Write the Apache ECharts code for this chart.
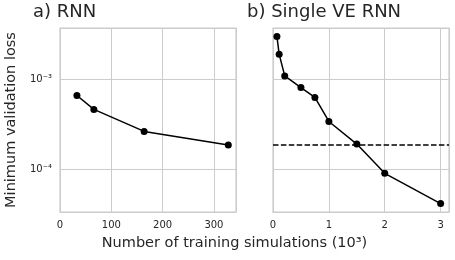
<!DOCTYPE html>
<html><head><meta charset="utf-8">
<script src="https://cdn.jsdelivr.net/npm/echarts@6/dist/echarts.min.js"></script>
<style>html,body{margin:0;padding:0;background:#fff}#c{width:455px;height:260px}</style>
</head><body><div id="c"></div>
<script>
// Panel a) RNN
const rnnSims = [33, 66, 164, 328];
const rnnLoss = [6.6e-4, 4.63e-4, 2.64e-4, 1.86e-4];
// Panel b) Single VE RNN (x in 10^3)
const veSims = [0.07, 0.11, 0.21, 0.5, 0.75, 1.0, 1.5, 2.0, 3.0];
const veLoss = [2.99e-3, 1.90e-3, 1.09e-3, 8.1e-4, 6.28e-4, 3.40e-4, 1.91e-4, 9.04e-5, 4.17e-5];
const rnnBest = 1.86e-4;
const titles = ['a) RNN', 'b) Single VE RNN'];
const xLabel = 'Number of training simulations (10³)';
const yLabel = 'Minimum validation loss';
const yMin = 3.365e-5, yMax = 3.707e-3;
const xMaxA = 343, xMaxB = 3.15;

const txt = '#262626', grey = '#cccccc';
const font = 'DejaVu Sans';
const chart = echarts.init(document.getElementById('c'), null, {renderer: 'canvas'});

function supExp(v) {
  const e = Math.round(Math.log10(v));
  const map = {'-':'⁻','0':'⁰','1':'¹','2':'²','3':'³','4':'⁴','5':'⁵','6':'⁶','7':'⁷','8':'⁸','9':'⁹'};
  return '10' + String(e).split('').map(c => map[c]).join('');
}
function isDecade(v) {
  const l = Math.log10(v);
  return Math.abs(l - Math.round(l)) < 1e-6;
}
const yAxisBase = (showLabels) => ({
  type: 'log', logBase: 10, min: yMin, max: yMax,
  axisLine: {show: false}, axisTick: {show: false},
  axisLabel: {show: showLabels, color: txt, fontFamily: font, fontSize: 10, margin: 8,
    showMinLabel: false, showMaxLabel: false,
    formatter: v => isDecade(v) ? supExp(v) : ''},
  splitLine: {show: true, lineStyle: {color: grey, width: 1}},
  minorTick: {show: false}, minorSplitLine: {show: false}
});
const xAxisBase = (max, interval) => ({
  type: 'value', min: 0, max: max, interval: interval,
  axisLine: {show: false}, axisTick: {show: false},
  axisLabel: {color: txt, fontFamily: font, fontSize: 10, margin: 8, showMaxLabel: false},
  splitLine: {show: true, lineStyle: {color: grey, width: 1}}
});
const lineStyle = {color: '#000', width: 1.5};

chart.setOption({
  animation: false,
  backgroundColor: '#fff',
  grid: [
    {left: 60, right: 219, top: 28, bottom: 48, show: true, borderColor: grey, borderWidth: 1.25, backgroundColor: '#fff'},
    {left: 273, right: 6, top: 28, bottom: 48, show: true, borderColor: grey, borderWidth: 1.25, backgroundColor: '#fff'}
  ],
  xAxis: [
    Object.assign({gridIndex: 0}, xAxisBase(xMaxA, 100)),
    Object.assign({gridIndex: 1}, xAxisBase(xMaxB, 1))
  ],
  yAxis: [
    Object.assign({gridIndex: 0}, yAxisBase(true)),
    Object.assign({gridIndex: 1}, yAxisBase(false))
  ],
  series: [
    {type: 'line', xAxisIndex: 0, yAxisIndex: 0, data: rnnSims.map((x, i) => [x, rnnLoss[i]]),
     symbol: 'circle', symbolSize: 7, itemStyle: {color: '#000'}, lineStyle: lineStyle},
    {type: 'line', xAxisIndex: 1, yAxisIndex: 1, data: [[0, rnnBest], [xMaxB, rnnBest]],
     symbol: 'none', lineStyle: {color: '#000', width: 1.5, type: [5.5, 2.4]}, z: 2},
    {type: 'line', xAxisIndex: 1, yAxisIndex: 1, data: veSims.map((x, i) => [x, veLoss[i]]),
     symbol: 'circle', symbolSize: 7, itemStyle: {color: '#000'}, lineStyle: lineStyle, z: 3}
  ],
  graphic: [
    {type: 'text', left: 33, top: 3, style: {text: titles[0], font: '18px "DejaVu Sans"', fill: txt}},
    {type: 'text', left: 247, top: 3, style: {text: titles[1], font: '18px "DejaVu Sans"', fill: txt}},
    {type: 'text', x: 234.5, y: 243, style: {text: xLabel, font: '14.5px "DejaVu Sans"', fill: txt, align: 'center', verticalAlign: 'middle'}},
    {type: 'text', x: 11, y: 120, rotation: Math.PI / 2, style: {text: yLabel, font: '14.5px "DejaVu Sans"', fill: txt, align: 'center', verticalAlign: 'middle'}}
  ]
});
</script></body></html>
